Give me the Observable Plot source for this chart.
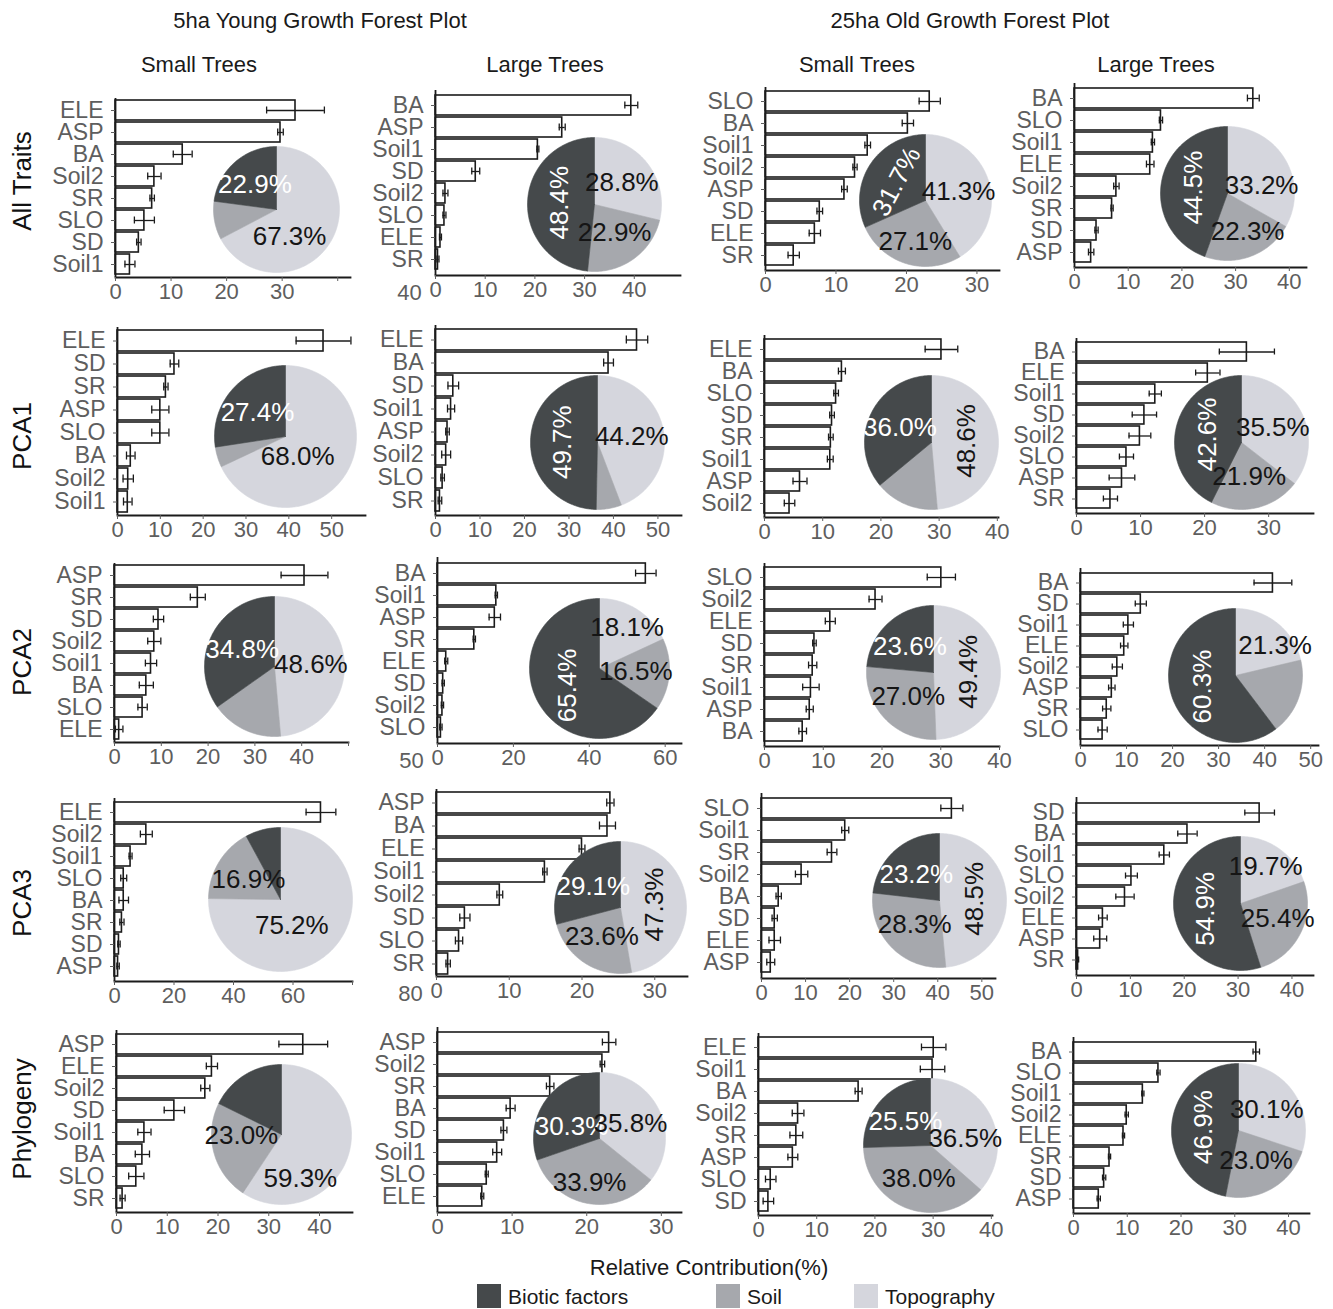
<!DOCTYPE html>
<html><head><meta charset="utf-8">
<script src="https://cdn.jsdelivr.net/npm/d3@7"></script>
<script src="https://cdn.jsdelivr.net/npm/@observablehq/plot@0.6"></script>
<style>
body{margin:0;background:#fff;}
#root{position:relative;width:1333px;height:1309px;overflow:hidden;font-family:"Liberation Sans",Arial,Helvetica,sans-serif;background:#fff;}
.lbl{position:absolute;white-space:nowrap;transform:translate(-50%,-50%);color:#1a1a1a;line-height:1;}
.box{position:absolute;}
</style></head><body><div id="root"></div>
<script>
// ---------- DATA ----------
const plotTitles = ["5ha Young Growth Forest Plot", "25ha Old Growth Forest Plot"];
const sizeTitles = ["Small Trees", "Large Trees", "Small Trees", "Large Trees"];
const rowNames = ["All Traits", "PCA1", "PCA2", "PCA3", "Phylogeny"];
const factorNames = ["Biotic factors", "Soil", "Topography"];
const axisTitle = "Relative Contribution(%)";

// each row: 4 panels (5ha small, 5ha large, 25ha small, 25ha large)
const allTraitsTraits = [
  ["ELE","ASP","BA","Soil2","SR","SLO","SD","Soil1"],
  ["BA","ASP","Soil1","SD","Soil2","SLO","ELE","SR"],
  ["SLO","BA","Soil1","Soil2","ASP","SD","ELE","SR"],
  ["BA","SLO","Soil1","ELE","Soil2","SR","SD","ASP"]];
const allTraitsValues = [
  [32.4,29.7,12.1,7.0,6.6,5.2,4.2,2.6],
  [39.4,25.5,20.6,8.1,2.0,1.8,1.0,0.5],
  [23.3,20.2,14.5,12.7,11.2,7.7,7.0,4.0],
  [33.3,16.1,14.6,14.1,7.8,7.0,4.1,3.1]];
const allTraitsErrors = [
  [5.2,0.5,1.7,1.2,0.4,1.8,0.4,0.9],
  [1.3,0.6,0.2,0.8,0.5,0.3,0.2,0.2],
  [1.5,0.8,0.4,0.3,0.4,0.4,0.8,0.8],
  [1.1,0.3,0.3,0.7,0.5,0.2,0.3,0.5]];
const allTraitsPie = [[22.9,9.8,67.3],[48.4,22.9,28.8],[31.7,27.1,41.3],[44.5,22.3,33.2]]; // biotic, soil, topography

const pca1Traits = [
  ["ELE","SD","SR","ASP","SLO","BA","Soil2","Soil1"],
  ["ELE","BA","SD","Soil1","ASP","Soil2","SLO","SR"],
  ["ELE","BA","SLO","SD","SR","Soil1","ASP","Soil2"],
  ["BA","ELE","Soil1","SD","Soil2","SLO","ASP","SR"]];
const pca1Values = [
  [48.1,13.3,11.3,10.0,10.0,3.1,2.5,2.4],
  [45.3,38.9,4.0,3.5,2.7,2.4,1.6,1.0],
  [30.4,13.3,12.3,11.6,11.4,11.3,6.1,4.3],
  [26.6,20.5,12.3,10.6,9.9,7.8,7.1,5.3]];
const pca1Errors = [
  [6.4,1.0,0.5,2.0,2.0,1.0,1.2,1.0],
  [2.4,1.1,1.2,0.8,0.4,1.0,0.4,0.4],
  [2.8,0.6,0.4,0.4,0.4,0.5,1.2,0.9],
  [4.3,1.9,0.95,1.9,1.7,1.1,2.0,1.1]];
const pca1Pie = [[27.4,4.6,68.0],[49.7,6.1,44.2],[36.0,15.4,48.6],[42.6,21.9,35.5]];

const pca2Traits = [
  ["ASP","SR","SD","Soil2","Soil1","BA","SLO","ELE"],
  ["BA","Soil1","ASP","SR","ELE","SD","Soil2","SLO"],
  ["SLO","Soil2","ELE","SD","SR","Soil1","ASP","BA"],
  ["BA","SD","Soil1","ELE","Soil2","ASP","SR","SLO"]];
const pca2Values = [
  [40.6,17.8,9.4,8.5,7.8,6.8,6.0,1.0],
  [54.9,15.5,15.1,9.7,2.3,1.5,1.3,0.9],
  [30.1,18.9,11.2,8.5,8.2,7.9,7.7,6.5],
  [41.8,13.1,10.4,9.5,8.0,6.8,5.7,4.8]];
const pca2Errors = [
  [5.0,1.6,1.1,1.4,1.2,1.5,1.0,0.8],
  [2.7,0.3,1.5,0.3,0.4,0.3,0.3,0.3],
  [2.4,1.1,0.85,0.3,0.7,1.4,0.6,0.65],
  [4.1,1.2,1.1,0.8,1.1,0.7,0.9,1.0]];
const pca2Pie = [[34.8,16.6,48.6],[65.4,16.5,18.1],[23.6,27.0,49.4],[60.3,18.4,21.3]];

const pca3Traits = [
  ["ELE","Soil2","Soil1","SLO","BA","SR","SD","ASP"],
  ["ASP","BA","ELE","Soil1","Soil2","SD","SLO","SR"],
  ["SLO","Soil1","SR","Soil2","BA","SD","ELE","ASP"],
  ["SD","BA","Soil1","SLO","Soil2","ELE","ASP","SR"]];
const pca3Values = [
  [69.4,10.7,5.4,3.1,3.1,2.5,1.5,1.2],
  [23.9,23.5,20.0,14.9,8.7,3.9,3.1,1.6],
  [43.2,19.0,16.0,9.1,3.9,3.0,3.0,2.1],
  [34.0,20.6,16.3,10.2,9.0,4.9,4.4,0.3]];
const pca3Errors = [
  [5.0,2.0,0.5,1.0,1.6,0.7,0.4,0.4],
  [0.5,1.1,0.4,0.3,0.4,0.7,0.5,0.3],
  [2.5,0.8,1.1,1.4,0.6,0.6,1.3,0.9],
  [2.75,1.8,0.95,1.1,1.7,0.8,1.2,0.1]];
const pca3Pie = [[7.9,16.9,75.2],[29.1,23.6,47.3],[23.2,28.3,48.5],[54.9,25.4,19.7]];

const phyloTraits = [
  ["ASP","ELE","Soil2","SD","Soil1","BA","SLO","SR"],
  ["ASP","Soil2","SR","BA","SD","Soil1","SLO","ELE"],
  ["ELE","Soil1","BA","Soil2","SR","ASP","SLO","SD"],
  ["BA","SLO","Soil1","Soil2","ELE","SR","SD","ASP"]];
const phyloValues = [
  [36.8,18.8,17.5,11.4,5.5,5.1,3.9,1.2],
  [23.0,22.1,15.1,9.8,8.9,8.0,6.6,6.0],
  [30.1,29.9,17.2,6.8,6.5,5.9,2.1,1.7],
  [34.0,15.8,12.9,9.9,9.3,6.7,5.7,4.7]];
const phyloErrors = [
  [4.8,1.1,0.9,2.0,1.3,1.4,1.5,0.5],
  [0.9,0.3,0.5,0.6,0.4,0.6,0.2,0.2],
  [2.1,2.1,0.6,1.0,1.1,0.85,0.9,0.9],
  [0.6,0.3,0.2,0.3,0.2,0.2,0.3,0.3]];
const phyloPie = [[17.7,23.0,59.3],[30.3,33.9,35.8],[25.5,38.0,36.5],[46.9,23.0,30.1]];

// stray tick labels printed left of the large-tree axes in the original
const strayTickLabels = ["40", null, "50", "80", null];

// ---------- LAYOUT / STYLE (not data) ----------
const factorColors = ["#45494b", "#a6a8ad", "#d5d6dd"];
const INK = "#1b1b1b", GRAY = "#5e5e5e";
const FONT = '"Liberation Sans", Arial, Helvetica, sans-serif';
// [x0, plotWidth, top, bottom, xMax, tickStep, pieCx, pieCy, pieR]
const layout = [
  [[115,235,98,277,42.3,10,276,209,63],[435,245,90,275,49.3,10,594,204,67],[765,234,87,270,33.2,10,925,200,66],[1074,232,83,267,43.2,10,1227,193,67]],
  [[117,248,327,515,57.9,10,285,436,71],[435,246,325,515,55.3,10,597,442,67],[764,234,335,517,40.2,10,931,442,67],[1076,237,338,513,37.0,10,1241,442,67]],
  [[114,234,563,742,50.0,10,274,666,70],[437,244,557,743,64.3,20,599,668,70],[764,235,563,746,40.0,10,933,672,67],[1080,238,568,745,51.7,10,1235,675,67]],
  [[114,238,798,981,80.0,20,280,899,72],[436,251,789,976,34.5,10,620,907,66],[761,234,793,978,53.1,10,939,900,67],[1076,237,797,975,44.0,10,1240,903,67]],
  [[116,236,1030,1212,46.5,10,281,1134,70],[437,244,1027,1212,32.7,10,599,1138,66],[758,234,1033,1215,40.2,10,930,1145,67],[1073,236,1037,1213,43.9,10,1238,1130,67]]];
// pie label rotation per slice [biotic, soil, topography]; null = unlabeled
const pieLabelRot = [
  [[0,null,0],[-90,0,0],[-62,0,0],[-90,0,0]],
  [[0,null,0],[-90,null,0],[0,null,-90],[-90,0,0]],
  [[0,null,0],[-90,0,0],[0,0,-90],[-90,null,0]],
  [[null,0,0],[0,0,-90],[0,0,-90],[-90,0,0]],
  [[null,0,0],[0,0,0],[0,0,0],[-90,0,0]]];
// small pixel nudges of pie labels: "row-col-slice" -> [dx, dy]
const pieLabelNudge = {
  "0-0-2": [-15, 10], "0-2-1": [0, 8], "0-3-2": [4, 10], "0-3-1": [8, 6],
  "1-0-2": [-19, 0], "2-3-2": [18, -3], "2-1-2": [8, -10],
  "3-0-2": [-15, 0], "3-3-2": [5, -8], "3-3-1": [6, 0],
  "4-0-2": [-16, 34], "4-0-1": [-5, -8], "4-1-0": [0, 8], "4-1-1": [-4, 10], "4-2-2": [3, 8]};
const rowLabelY = [181, 436, 662, 903, 1119];

const rows = [
  {traits: allTraitsTraits, values: allTraitsValues, errors: allTraitsErrors, pie: allTraitsPie},
  {traits: pca1Traits, values: pca1Values, errors: pca1Errors, pie: pca1Pie},
  {traits: pca2Traits, values: pca2Values, errors: pca2Errors, pie: pca2Pie},
  {traits: pca3Traits, values: pca3Values, errors: pca3Errors, pie: pca3Pie},
  {traits: phyloTraits, values: phyloValues, errors: phyloErrors, pie: phyloPie}];

const root = document.getElementById("root");
const colorScale = Plot.scale({color: {domain: factorNames, range: factorColors}});

function place(el, left, top) {
  const d = document.createElement("div");
  d.className = "box";
  d.style.left = left + "px"; d.style.top = top + "px";
  d.appendChild(el); root.appendChild(d); return d;
}
function label(text, x, y, size, extra) {
  const d = document.createElement("div");
  d.className = "lbl"; d.textContent = text;
  d.style.left = x + "px"; d.style.top = y + "px"; d.style.fontSize = size + "px";
  if (extra) Object.assign(d.style, extra);
  root.appendChild(d); return d;
}
const svgStyle = {fontFamily: FONT, background: "transparent", overflow: "visible", maxWidth: "none"};

const ML = 78, MR = 12, MT = 6, MB = 34, PM = 60, K = 0.52;

function piePlot(vals, rots, r, key) {
  const order = [2, 1, 0]; // clockwise from 12 o'clock: topography, soil, biotic
  const total = d3.sum(vals);
  let a = 0;
  const pts = [], labels = [];
  for (const i of order) {
    const a0 = a, a1 = a + vals[i] / total * 2 * Math.PI; a = a1;
    const n = Math.max(2, Math.ceil((a1 - a0) / (Math.PI / 180)));
    pts.push({key: factorNames[i], x: 0, y: 0});
    for (let k = 0; k <= n; k++) {
      const t = a0 + (a1 - a0) * k / n;
      pts.push({key: factorNames[i], x: Math.sin(t), y: Math.cos(t)});
    }
    pts.push({key: factorNames[i], x: 0, y: 0});
    if (rots[i] !== null) {
      const m = (a0 + a1) / 2;
      const [ndx, ndy] = pieLabelNudge[key + "-" + i] || [0, 0];
      labels.push({text: vals[i].toFixed(1) + "%", x: K * Math.sin(m) + ndx / r, y: K * Math.cos(m) - ndy / r, rot: rots[i], white: i === 0});
    }
  }
  return Plot.plot({
    width: 2 * r + 2 * PM, height: 2 * r + 2 * PM, margin: PM,
    x: {domain: [-1, 1], axis: null}, y: {domain: [-1, 1], axis: null},
    color: {domain: factorNames, range: factorColors},
    style: svgStyle,
    marks: [
      Plot.line(pts, {x: "x", y: "y", z: "key", fill: "key", stroke: "key", strokeWidth: 0.6}),
      Plot.text(labels.filter(d => d.white), {x: "x", y: "y", text: "text", rotate: "rot", fill: "white", fontSize: 26}),
      Plot.text(labels.filter(d => !d.white), {x: "x", y: "y", text: "text", rotate: "rot", fill: "#151515", fontSize: 26})
    ]
  });
}

rows.forEach((row, r) => {
  for (let c = 0; c < 4; c++) {
    const [x0, w, top, bot, xMax, step, cx, cy, pr] = layout[r][c];
    const traits = row.traits[c];
    const data = traits.map((t, i) => ({trait: t, value: row.values[c][i], err: row.errors[c][i]}));
    const ticks = d3.range(0, xMax + 1e-6, step);
    const hideLast = c === 0 && strayTickLabels[r];
    const marks = [
      Plot.barX(data, {x: "value", y: "trait", fill: "white", stroke: INK, strokeWidth: 1.6}),
      Plot.ruleY(data, {x1: d => d.value - d.err, x2: d => d.value + d.err, y: "trait", stroke: INK, strokeWidth: 1.3}),
      Plot.tickX(data, {x: d => d.value - d.err, y: "trait", stroke: INK, strokeWidth: 1.3, insetTop: 6.5, insetBottom: 6.5}),
      Plot.tickX(data, {x: d => d.value + d.err, y: "trait", stroke: INK, strokeWidth: 1.3, insetTop: 6.5, insetBottom: 6.5}),
      Plot.ruleX([0], {stroke: INK, strokeWidth: 1.8}),
      Plot.frame({anchor: "bottom", stroke: INK, strokeWidth: 1.8}),
      Plot.axisY({tickSize: 4, tickPadding: 8, fontSize: 23, color: GRAY, label: null}),
      Plot.axisX({ticks, tickSize: 4, tickPadding: 2, fontSize: 22, color: GRAY, label: null,
        tickFormat: d => (hideLast && d === ticks[ticks.length - 1]) ? "" : String(d)})
    ];
    if (c === 1 && strayTickLabels[r]) {
      marks.push(Plot.text([strayTickLabels[r]], {x: () => 0, text: d => d, frameAnchor: "bottom", dx: -26, dy: 9, lineAnchor: "top", fontSize: 22, fill: GRAY}));
    }
    const chart = Plot.plot({
      width: ML + w + MR, height: MT + (bot - top) + MB,
      marginLeft: ML, marginRight: MR, marginTop: MT, marginBottom: MB,
      x: {domain: [0, xMax]},
      y: {domain: traits, paddingInner: 0.09, paddingOuter: 0.1},
      style: svgStyle,
      marks
    });
    place(chart, x0 - ML, top - MT);
    const pie = piePlot(row.pie[c], pieLabelRot[r][c], pr, r + "-" + c);
    place(pie, cx - pr - PM, cy - pr - PM);
  }
  label(rowNames[r], 22, rowLabelY[r], 26, {transform: "translate(-50%,-50%) rotate(-90deg)", color: "#111"});
});

// titles
label(plotTitles[0], 320, 21, 22);
label(plotTitles[1], 970, 21, 22);
[199, 545, 857, 1156].forEach((x, i) => label(sizeTitles[i], x, 65, 22));

// axis title + legend
label(axisTitle, 709, 1268, 22);
const legendX = [477, 716, 854];
factorNames.forEach((name, i) => {
  const sw = document.createElement("div");
  sw.className = "box";
  Object.assign(sw.style, {left: legendX[i] + "px", top: "1284px", width: "24px", height: "24px", background: colorScale.apply(name)});
  root.appendChild(sw);
  label(name, legendX[i] + 31, 1296, 21, {transform: "translate(0,-50%)"});
});
</script></body></html>
